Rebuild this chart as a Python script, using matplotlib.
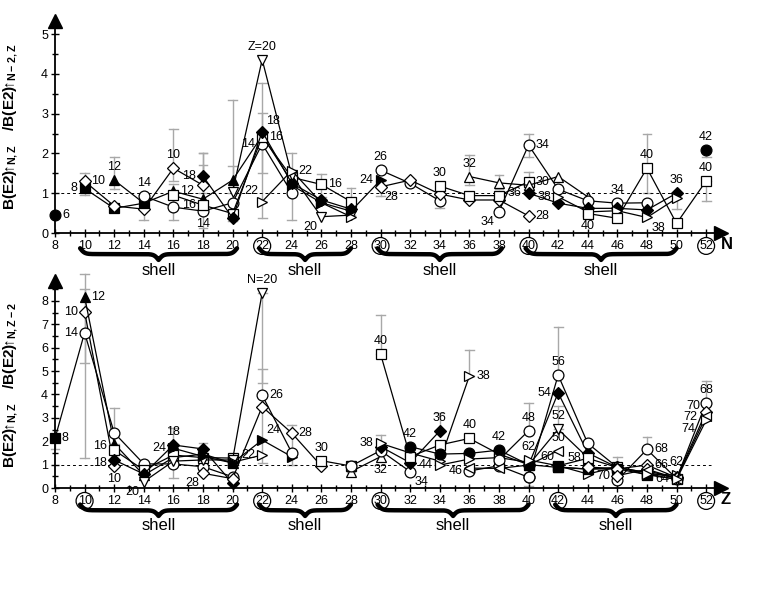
import numpy as np
import matplotlib
matplotlib.use('Agg')
import matplotlib.pyplot as plt
import matplotlib.transforms as mtransforms

plt.rcParams['font.family'] = ['Liberation Sans', 'DejaVu Sans']
plt.rcParams['mathtext.fontset'] = 'custom'
plt.rcParams['mathtext.rm'] = 'Liberation Sans'
plt.rcParams['mathtext.bf'] = 'Liberation Sans:bold'

# ---------------- top panel: ratio vs N, one line per Z
top_Z = [6, 8, 10, 12, 14, 16, 18, 20, 22, 24, 26, 28, 30, 32, 34, 36, 38, 40, 42]
top_N = [[8], [10, 12, 14], [10, 12, 14, 16, 18],
         [12, 14, 16, 18, 20, 22, 24], [14, 16, 18, 20, 22, 24],
         [16, 18, 20, 22, 24, 26, 28], [18, 20, 22, 24, 26, 28],
         [20, 22, 24, 26, 28], [22, 24, 26, 28], [24, 26, 28, 30],
         [30, 32, 34], [30, 32, 34, 36, 38, 40], [34, 36, 38, 40],
         [36, 38, 40, 42, 44], [38, 40, 42, 44, 46, 48],
         [40, 42, 44, 46, 48, 50], [42, 44, 46, 48, 50],
         [44, 46, 48, 50, 52], [52]]
top_ratio = [[0.45], [1.12, 0.62, 0.75], [1.3, 0.68, 0.6, 1.63, 1.2],
             [1.33, 0.75, 1.05, 0.85, 1.33, 2.45, 1.29], [0.93, 0.65, 0.55, 0.76, 2.24, 1.01],
             [0.95, 0.7, 0.49, 2.42, 1.4, 1.22, 0.79], [1.43, 0.38, 2.55, 1.25, 0.83, 0.6],
             [1.04, 4.36, 1.45, 0.41, 0.45], [0.79, 1.57, 0.76, 0.41], [1.2, 0.76, 0.55, 1.33],
             [1.58, 1.25, 0.81], [1.16, 1.33, 0.98, 0.83, 0.83, 0.43], [1.18, 0.94, 0.94, 1.29],
             [1.42, 1.26, 1.2, 1.42, 0.91], [0.54, 2.21, 1.1, 0.81, 0.75, 0.76],
             [1.0, 0.75, 0.62, 0.62, 0.58, 1.0], [0.91, 0.53, 0.56, 0.39, 0.87],
             [0.49, 0.37, 1.63, 0.24, 1.31], [2.09]]
top_err_x = [10, 12, 14, 16, 16, 18, 18, 18, 20, 20, 22, 22, 24, 26, 28, 30, 34, 36, 38, 40, 40, 48, 50, 52, 52]
top_err_lo = [0.95, 1.1, 0.32, 0.33, 1.3, 0.12, 1.0, 0.7, 0.3, 1.0, 1.5, 0.37, 0.33, 0.9, 0.45,
              0.93, 0.62, 1.2, 1.1, 1.9, 1.1, 1.0, 0.6, 0.8, 1.9]
top_err_hi = [1.5, 1.9, 0.95, 1.22, 2.62, 2.0, 2.0, 1.7, 3.35, 1.68, 3.78, 3.02, 2.02, 1.48, 1.12,
              1.3, 0.9, 1.96, 1.46, 2.49, 1.54, 2.49, 1.0, 1.31, 2.1]
top_tag_key = [6, 8, 10, 12, 14, 10, 12, 18, 16, 14, 20, 18, 16, 14, 22, 22, 16, 20,
               26, 24, 28, 30, 32, 34, 34, 30, 36, 28, 38, 40, 34, 40, 38, 36, 42, 40]
top_tag_at = [8, 10, 10, 12, 14, 16, 16, 18, 18, 18, 22, 22, 22, 22, 22, 24, 26, 26,
              30, 30, 30, 34, 36, 38, 40, 40, 40, 40, 42, 44, 46, 48, 48, 50, 52, 52]
top_tag_text = [str(k) for k in top_tag_key]
top_tag_text[10] = 'Z=20'

# ---------------- bottom panel: ratio vs Z, one line per N
bot_N = [8, 10, 12, 14, 16, 18, 20, 22, 24, 26, 28, 30, 32, 34, 36, 38, 40, 42, 44, 46,
         48, 50, 52, 54, 56, 58, 60, 62, 64, 66, 68, 70, 72, 74]
bot_Z = [[8, 10], [10, 12], [10, 12, 14, 16, 18, 20], [10, 12, 14, 16, 18, 20],
         [12, 14, 16, 18, 20], [12, 14, 16, 18, 20], [14, 16, 18, 20, 22], [20, 22],
         [16, 18, 20, 22, 24], [22, 24], [18, 20, 22, 24, 26], [26, 28], [28, 30],
         [28, 30, 32], [30, 32, 34], [30, 32, 34, 36], [30, 32, 34, 36, 38, 40],
         [32, 34, 36, 38, 40], [34, 36, 38, 40], [36, 38, 40], [38, 40], [36, 38, 40, 42],
         [40, 42, 44], [40, 42, 44, 46], [40, 42, 44, 46], [42, 44, 46, 48],
         [40, 42, 44, 46, 48, 50], [40, 42, 44, 46, 48, 50], [42, 44, 46, 48, 50],
         [44, 46, 48, 50], [46, 48, 50, 52], [46, 48, 50, 52], [48, 50, 52], [48, 50, 52]]
bot_ratio = [[2.12, 6.64], [7.54, 0.94], [8.18, 1.9, 0.55, 1.3, 1.45, 1.07],
             [6.64, 2.36, 1.03, 1.03, 0.91, 0.48], [1.62, 0.77, 1.41, 1.3, 1.28],
             [1.2, 0.6, 1.84, 1.67, 0.2], [0.27, 1.15, 1.2, 1.2, 8.35], [1.1, 1.41],
             [1.7, 1.35, 1.07, 2.05, 1.34], [3.97, 1.51], [0.63, 0.4, 3.48, 2.35, 0.94],
             [1.17, 0.94], [0.7, 1.34], [0.94, 1.6, 0.7], [1.77, 1.08, 2.44],
             [1.91, 1.5, 1.15, 4.79], [5.73, 1.34, 1.84, 2.12, 1.45, 1.0],
             [1.77, 1.45, 1.48, 1.62, 1.0], [0.98, 1.24, 1.3, 1.1], [0.73, 0.95, 0.46],
             [1.2, 2.45], [0.85, 0.84, 0.98, 1.6], [0.98, 2.51, 1.3], [0.98, 4.07, 1.5, 0.88],
             [0.46, 4.83, 1.91, 0.88], [0.95, 1.27, 0.88, 0.66],
             [1.0, 0.88, 0.81, 0.88, 0.66, 0.45], [1.2, 0.95, 0.6, 0.9, 0.57, 0.56],
             [0.9, 0.81, 0.82, 0.57, 0.37], [0.9, 0.82, 0.98, 0.45], [0.34, 1.65, 0.4, 3.65],
             [0.53, 0.8, 0.42, 3.26], [0.75, 0.4, 3.08], [0.6, 0.37, 2.9]]
bot_err_x = [8, 10, 10, 12, 16, 18, 20, 22, 22, 24, 28, 30, 30, 34, 36, 40, 40, 42, 42, 46, 48, 52]
bot_err_lo = [1.65, 1.28, 5.36, 1.9, 0.42, 1.3, 0.9, 1.05, 4.5, 1.0, 0.7, 5.73, 1.5, 2.44,
              4.79, 2.45, 0.1, 4.83, 2.51, 0.88, 1.65, 3.65]
bot_err_hi = [2.12, 9.15, 8.53, 3.4, 2.58, 1.92, 1.35, 5.08, 8.35, 2.69, 1.15, 7.4, 2.25, 3.2,
              5.9, 3.65, 0.46, 6.87, 3.5, 1.31, 2.19, 4.59]
bot_tag_key = [8, 12, 10, 14, 16, 18, 10, 20, 18, 24, 28, 20, 26, 24, 22, 28, 30, 40, 38, 32,
               42, 34, 36, 44, 38, 40, 46, 42, 48, 62, 56, 54, 52, 50, 60, 58, 70, 68, 66,
               62, 64, 68, 70, 72, 74]
bot_tag_at = [8, 10, 10, 10, 12, 12, 12, 14, 16, 16, 18, 22, 22, 22, 22, 24, 26, 30, 30, 30,
              32, 32, 34, 34, 36, 36, 36, 38, 40, 40, 42, 42, 42, 42, 42, 44, 46, 48, 48,
              50, 50, 52, 52, 52, 52]
bot_tag_text = [str(k) for k in bot_tag_key]
bot_tag_text[11] = 'N=20'

# shell braces (x ranges)
top_shells = [(9.7, 20.3), (21.8, 28.0), (29.8, 38.2), (39.8, 50.0)]
bot_shells = [(9.7, 20.3), (21.8, 28.0), (29.8, 40.0), (41.8, 50.0)]

# ---------------- styles
STYLE = {'fc': ('o', 'k'), 'fs': ('s', 'k'), 'od': ('D', 'w'), 'ft': ('^', 'k'),
         'oc': ('o', 'w'), 'os': ('s', 'w'), 'fd': ('D', 'k'), 'ov': ('v', 'w'),
         'or': ('>', 'w'), 'fr': ('>', 'k'), 'ot': ('^', 'w'), 'ol': ('<', 'w')}
top_kind = ['fc', 'fs', 'od', 'ft', 'oc', 'os', 'fd', 'ov', 'or', 'fr', 'oc', 'od', 'os',
            'ot', 'oc', 'fd', 'or', 'os', 'fc']
bot_kind = ['fs', 'od', 'ft', 'oc', 'os', 'fd', 'ov', 'or', 'fr', 'oc', 'od', 'os', 'ot',
            'oc', 'fd', 'or', 'os', 'fc', 'or', 'oc', 'oc', 'ol', 'ov', 'fd', 'oc', 'os',
            'ft', 'or', 'fs', 'od', 'oc', 'od', 'ol', 'or']
SIDE = {'r': ((5, 0), 'left', 'center'), 'l': ((-5, 0), 'right', 'center'),
        'a': ((0, 5), 'center', 'bottom'), 'b': ((0, -5), 'center', 'top'),
        'ar': ((3, 3), 'left', 'bottom'), 'al': ((-3, 3), 'right', 'bottom'),
        'br': ((3, -3), 'left', 'top'), 'bl': ((-3, -3), 'right', 'top'),
        'lu': ((-5, 3), 'right', 'center'), 'ld': ((-5, -2), 'right', 'center'),
        'l1': ((-4, 4), 'right', 'center'), 'l2': ((-6, -1), 'right', 'center'),
        'l3': ((-8, -6), 'right', 'center')}
top_side = ['r', 'l', 'r', 'a', 'a', 'a', 'r', 'l', 'l', 'b', 'a', 'ar', 'r', 'l', 'al', 'r',
            'r', 'bl', 'a', 'l', 'br', 'a', 'a', 'bl', 'r', 'r', 'l', 'r', 'l', 'b', 'a', 'a',
            'br', 'a', 'a', 'a']
bot_side = ['r', 'r', 'l', 'l', 'lu', 'ld', 'b', 'bl', 'a', 'l', 'bl', 'a', 'r', 'ar', 'l', 'r',
            'a', 'a', 'l', 'b', 'a', 'br', 'a', 'l', 'r', 'a', 'l', 'a', 'a', 'a', 'a', 'l',
            'a', 'a', 'al', 'l', 'l', 'r', 'r', 'a', 'l', 'a', 'l1', 'l2', 'l3']


def brace(ax, x0, x1, ytop, depth):
    trans = mtransforms.blended_transform_factory(ax.transData, ax.transAxes)
    beta = 6.5
    x = np.linspace(x0, x1, 401)
    xh = x[:201]
    yh = 1 / (1 + np.exp(-beta * (xh - xh[0]))) + 1 / (1 + np.exp(-beta * (xh - xh[-1])))
    yy = np.concatenate((yh, yh[-2::-1]))
    ax.plot(x, ytop - depth * (yy - 0.5), color='k', lw=3.2, transform=trans,
            clip_on=False, solid_capstyle='round')


def panel(ax, keys, xs, ys, kinds, ex, elo, ehi, tkey, tat, ttext, tside,
          ymax, circled, name, shells, brace_y, brace_d, shell_y, hide=None):
    hide = hide or {}
    for x, lo, hi in zip(ex, elo, ehi):
        ax.plot([x, x], [lo, hi], color='#a8a8a8', lw=1.0, zorder=1, clip_on=False)
        ax.plot([x - 0.3, x + 0.3], [lo, lo], color='#a8a8a8', lw=1.0, zorder=1, clip_on=False)
        ax.plot([x - 0.3, x + 0.3], [hi, hi], color='#a8a8a8', lw=1.0, zorder=1, clip_on=False)
    ax.plot([8, 52.3], [1, 1], color='k', lw=0.7, ls=(0, (3, 3)), zorder=1)
    for k, x, y, kind in zip(keys, xs, ys, kinds):
        m, fc = STYLE[kind]
        ms = 6.3 if m == 'D' else 7.8
        mev = [i for i in range(len(x)) if i not in hide.get(k, [])]
        ax.plot(x, y, color='k', lw=0.9, marker=m, ms=ms, mfc=fc, mec='k', mew=0.9,
                markevery=mev, zorder=3, clip_on=False)
    for k, at, txt, sd in zip(tkey, tat, ttext, tside):
        i = keys.index(k)
        y = ys[i][xs[i].index(at)]
        off, ha, va = SIDE[sd]
        ax.annotate(txt, (at, y), xytext=off, textcoords='offset points',
                    ha=ha, va=va, fontsize=9, zorder=5)

    ax.set_xlim(8, 53.0)
    ax.set_ylim(0, ymax)
    ax.spines['top'].set_visible(False)
    ax.spines['right'].set_visible(False)
    ax.spines['left'].set_linewidth(1.3)
    ax.spines['bottom'].set_linewidth(1.3)
    ax.set_xticks(np.arange(8, 53, 2))
    ax.set_xticks(np.arange(9, 53, 2), minor=True)
    ax.set_yticks(np.arange(0, int(ymax) + 1))
    ax.set_yticks(np.arange(0.5, ymax, 1.0), minor=True)
    ax.tick_params(which='major', direction='inout', length=6, width=1, labelsize=9, pad=2)
    ax.tick_params(which='minor', direction='inout', length=4, width=1)
    for lbl in ax.get_xticklabels():
        if lbl.get_text() in circled:
            lbl.set_bbox(dict(boxstyle='circle,pad=0.12', fc='white', ec='k', lw=0.9))
    ax.plot(1, 0, '>k', ms=10, transform=ax.transAxes, clip_on=False)
    ax.plot(0, 1, '^k', ms=10, transform=ax.transAxes, clip_on=False)
    ax.annotate(name, (1, 0), xycoords='axes fraction', xytext=(0, -8),
                textcoords='offset points', ha='left', va='center',
                fontsize=12, fontweight='bold')
    for x0, x1 in shells:
        brace(ax, x0, x1, brace_y, brace_d)
        ax.text((x0 + x1) / 2, shell_y, 'shell', fontsize=12, ha='center', va='center',
                transform=mtransforms.blended_transform_factory(ax.transData, ax.transAxes))


fig = plt.figure(figsize=(7.7, 5.95), dpi=100)
ax1 = fig.add_axes([0.0714, 0.6084, 0.8649, 0.3563])
ax2 = fig.add_axes([0.0714, 0.1798, 0.8649, 0.3479])

panel(ax1, top_Z, top_N, top_ratio, top_kind, top_err_x, top_err_lo, top_err_hi,
      top_tag_key, top_tag_at, top_tag_text, top_side, 5.33,
      ['22', '30', '40', '52'], 'N', top_shells, -0.072, 0.055, -0.175)
panel(ax2, bot_N, bot_Z, bot_ratio, bot_kind, bot_err_x, bot_err_lo, bot_err_hi,
      bot_tag_key, bot_tag_at, bot_tag_text, bot_side, 8.85,
      ['10', '22', '30', '42', '52'], 'Z', bot_shells, -0.08, 0.055, -0.179,
      hide={8: [1]})

ax1.set_ylabel(r'$\mathbf{B(E2)}\!\!\uparrow_{\!\!\mathbf{N,Z}}\quad\mathbf{/B(E2)}\!\!\uparrow_{\!\!\mathbf{N-2,Z}}$',
               fontsize=11)
ax2.set_ylabel(r'$\mathbf{B(E2)}\!\!\uparrow_{\!\!\mathbf{N,Z}}\quad\mathbf{/B(E2)}\!\!\uparrow_{\!\!\mathbf{N,Z-2}}$',
               fontsize=11)
ax1.yaxis.set_label_coords(-0.052, 0.5)
ax2.yaxis.set_label_coords(-0.052, 0.5)

fig.savefig('out.png', dpi=100)
